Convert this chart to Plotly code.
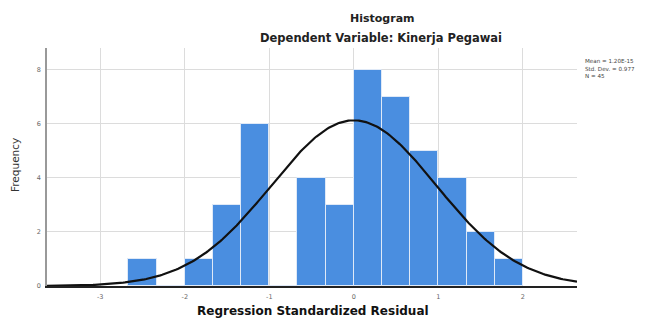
import numpy as np
import plotly.graph_objects as go

# ---- data ----
bin_width = 1 / 3
bin_left_edges = [-8/3, -7/3, -2, -5/3, -4/3, -1, -2/3, -1/3, 0, 1/3, 2/3, 1, 4/3, 5/3]
counts = [1, 0, 1, 3, 6, 0, 4, 3, 8, 7, 5, 4, 2, 1]
mean_resid = 0.0
std_resid = 0.977
n_obs = 45
x_tick_vals = [-3, -2, -1, 0, 1, 2]
y_tick_vals = [0, 2, 4, 6, 8]
legend_lines = ["Mean = 1.20E-15", "Std. Dev. = 0.977", "N = 45"]

x_range = [-3.63, 2.64]
y_range = [0, 8.8]

centers = [e + bin_width / 2 for e in bin_left_edges]

# fitted normal curve (derived from mean, sd, N and bin width)
xc = np.linspace(x_range[0], x_range[1], 300)
yc = n_obs * bin_width / (std_resid * np.sqrt(2 * np.pi)) * np.exp(-0.5 * ((xc - mean_resid) / std_resid) ** 2)

fig = go.Figure()
fig.add_trace(go.Bar(
    x=centers, y=counts, width=[bin_width] * len(centers),
    marker=dict(color="#4a8ee0", line=dict(color="#dfe9f7", width=1)),
    hoverinfo="skip",
))
fig.add_trace(go.Scatter(
    x=xc, y=yc, mode="lines", line=dict(color="#111111", width=2.2),
    hoverinfo="skip",
))

FONT = "DejaVu Sans"
fig.update_layout(
    width=653, height=319,
    margin=dict(l=47, r=76, t=48, b=33),
    paper_bgcolor="white", plot_bgcolor="white",
    showlegend=False, bargap=0,
    font=dict(family=FONT, color="#333333"),
    xaxis=dict(
        range=x_range, tickvals=x_tick_vals, ticktext=[str(v) for v in x_tick_vals],
        showgrid=True, gridcolor="#dcdcdc", gridwidth=1, zeroline=False,
        showline=True, linecolor="#222222", linewidth=1.5,
        ticks="outside", ticklen=3, tickcolor="rgba(0,0,0,0)",
        tickfont=dict(size=6.5, color="#666666", family=FONT),
    ),
    yaxis=dict(
        range=y_range, tickvals=y_tick_vals, ticktext=[str(v) for v in y_tick_vals],
        showgrid=True, gridcolor="#dcdcdc", gridwidth=1, zeroline=False,
        showline=True, linecolor="#999999", linewidth=1.5,
        ticks="outside", ticklen=3, tickcolor="rgba(0,0,0,0)",
        tickfont=dict(size=6.5, color="#666666", family=FONT),
    ),
)

W = 530.0
H = 238.0
def px(x):
    return (x - 47) / W
def py(y):
    return (286 - y) / H

annots = [
    dict(text="<b>Histogram</b>", x=px(382), y=py(18), size=11, color="#222222"),
    dict(text="<b>Dependent Variable: Kinerja Pegawai</b>", x=px(381), y=py(38), size=11.5, color="#222222"),
    dict(text="<b>Regression Standardized Residual</b>", x=px(313), y=py(311), size=12, color="#111111"),
]
for a in annots:
    fig.add_annotation(text=a["text"], x=a["x"], y=a["y"], xref="paper", yref="paper",
                       xanchor="center", yanchor="middle", showarrow=False,
                       font=dict(size=a["size"], color=a["color"], family=FONT))

fig.add_annotation(text="Frequency", x=px(15), y=py(165), xref="paper", yref="paper",
                   xanchor="center", yanchor="middle", showarrow=False, textangle=-90,
                   font=dict(size=10.5, color="#333333", family=FONT))

for i, line in enumerate(legend_lines):
    fig.add_annotation(text=line, x=px(583), y=py(61 + 7.5 * i), xref="paper", yref="paper",
                       xanchor="left", yanchor="middle", showarrow=False,
                       font=dict(size=5.6, color="#444444", family=FONT))

fig.write_html("out.html", config={"displayModeBar": False},
               post_script="document.body.style.margin='0';document.body.style.overflow='hidden';")
